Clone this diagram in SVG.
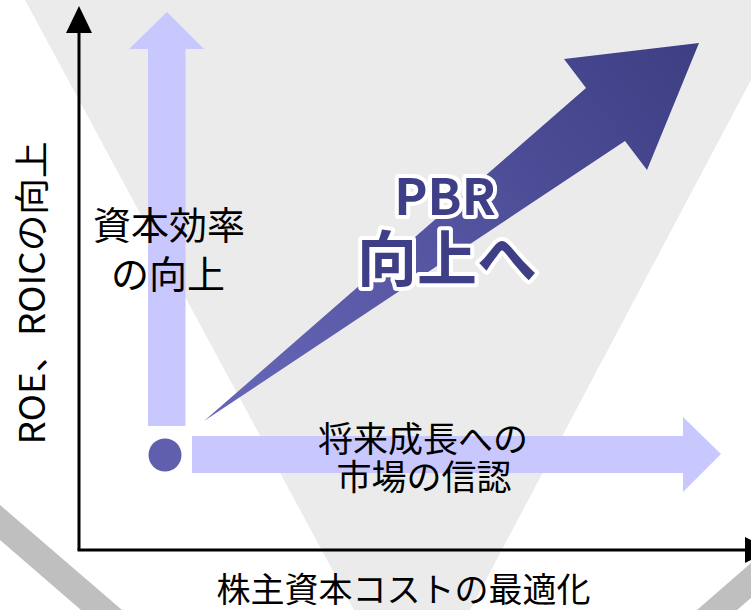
<svg xmlns="http://www.w3.org/2000/svg" width="751" height="610" viewBox="0 0 751 610">
  <style>
    .t { font-family: "Noto Sans CJK JP", "Liberation Sans", sans-serif; fill: #000; }
    .big { font-family: "Noto Sans CJK JP", "Liberation Sans", sans-serif; font-weight: bold; fill: #3f3f88; stroke: #fff; stroke-width: 8; stroke-linejoin: round; paint-order: stroke; }
    .light { fill: #c8c8ff; }
    .strip { fill: #bfbfbf; }
    .axis { stroke: #000; stroke-width: 3; fill: none; }
  </style>
  <defs>
    <linearGradient id="gArrow" gradientUnits="userSpaceOnUse" x1="204" y1="421" x2="699" y2="43">
      <stop offset="0" stop-color="#6868ba"/>
      <stop offset="1" stop-color="#3e3e84"/>
    </linearGradient>
  </defs>
  <rect width="751" height="610" fill="#fff"/>
  <g id="background">
    <polygon points="25,0 751,0 751,80 470,610 354,610" fill="#ebebeb"/>
    <polygon class="strip" points="0,505 122,610 81,610 0,540"/>
    <polygon class="strip" points="697,610 751,563 751,598 737,610"/>
  </g>
  <g id="node-up-arrow">
    <polygon class="light" points="148,426 148,49 129,49 167,12 204,49 185.5,49 185.5,426"/>
  </g>
  <g id="node-right-arrow">
    <polygon class="light" points="192,436 683,436 683,417 721,454 683,492 683,473 192,473"/>
  </g>
  <g id="node-pbr-arrow">
    <polygon fill="url(#gArrow)" points="204,421 586,88 564,59 699,43 647,170 625,141"/>
  </g>
  <g id="node-origin">
    <circle cx="165" cy="455" r="16.5" fill="#5f5fae"/>
  </g>
  <g id="connectors">
    <line class="axis" x1="79" y1="550" x2="79" y2="30"/>
    <polygon points="79,6 66,33 92,33" fill="#000"/>
    <line class="axis" x1="77.5" y1="550" x2="748" y2="550"/>
    <polygon points="772,550 745,537 745,563" fill="#000"/>
  </g>
  <g id="label-left">
    <text class="t" x="169" y="239" font-size="38" text-anchor="middle">資本効率</text>
    <text class="t" x="168" y="288" font-size="38" text-anchor="middle">の向上</text>
  </g>
  <g id="label-right">
    <text class="t" x="423" y="452" font-size="35" text-anchor="middle">将来成長への</text>
    <text class="t" x="424" y="490" font-size="35" text-anchor="middle">市場の信認</text>
  </g>
  <g id="label-pbr">
    <text class="big" x="445" y="215" font-size="50" text-anchor="middle">PBR</text>
    <text class="big" x="447" y="281" font-size="60" text-anchor="middle">向上へ</text>
  </g>
  <g id="axis-labels">
    <text class="t" transform="translate(45,293) rotate(-90)" font-size="35" text-anchor="middle" textLength="303" lengthAdjust="spacingAndGlyphs">ROE、ROICの向上</text>
    <text class="t" x="403.5" y="602" font-size="34" text-anchor="middle">株主資本コストの最適化</text>
  </g>
</svg>
